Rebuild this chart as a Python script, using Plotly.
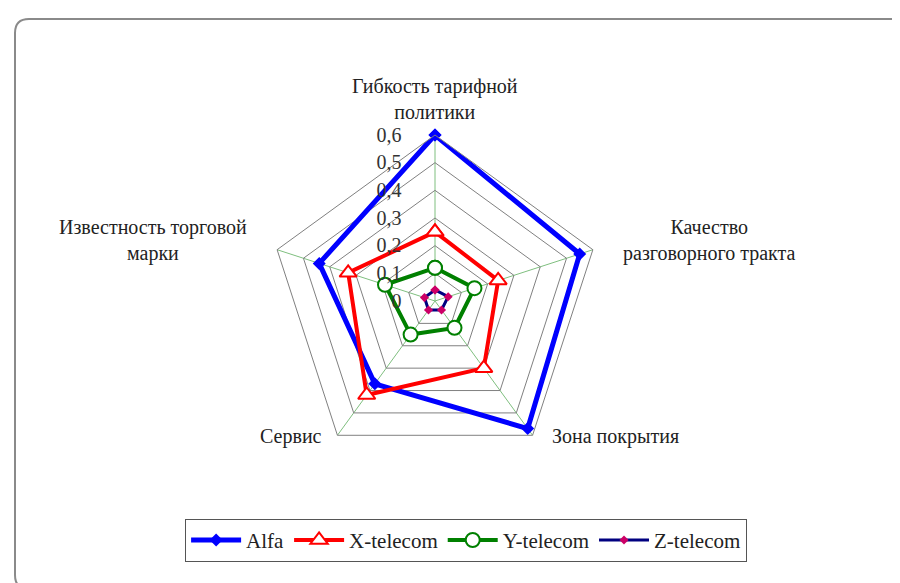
import plotly.graph_objects as go

categories = ["Гибкость тарифной политики", "Качество разговорного тракта",
              "Зона покрытия", "Сервис", "Известность торговой марки"]
alfa = [0.60, 0.55, 0.57, 0.37, 0.44]
x_telecom = [0.25, 0.24, 0.30, 0.42, 0.33]
y_telecom = [0.12, 0.15, 0.12, 0.15, 0.19]
z_telecom = [0.04, 0.05, 0.04, 0.04, 0.04]
tick_vals = [0, 0.1, 0.2, 0.3, 0.4, 0.5, 0.6]
tick_text = ["0", "0,1", "0,2", "0,3", "0,4", "0,5", "0,6"]

FONT = "'Liberation Serif', 'Times New Roman', serif"

def closed(v):
    return list(v) + [v[0]]

theta = closed(categories)
pad = "\u00a0" * 6

fig = go.Figure()
fig.add_trace(go.Scatterpolar(
    r=closed(alfa), theta=theta, name="Alfa", mode="lines+markers",
    line=dict(color="#0000FF", width=5),
    marker=dict(symbol="diamond", size=10, color="#0000FF")))
fig.add_trace(go.Scatterpolar(
    r=closed(x_telecom), theta=theta, name="X-telecom", mode="lines+markers",
    line=dict(color="#FF0000", width=4),
    marker=dict(symbol="triangle-up", size=15, color="white",
                line=dict(color="#FF0000", width=2))))
fig.add_trace(go.Scatterpolar(
    r=closed(y_telecom), theta=theta, name="Y-telecom", mode="lines+markers",
    line=dict(color="#008000", width=4),
    marker=dict(symbol="circle", size=14, color="white",
                line=dict(color="#008000", width=2))))
fig.add_trace(go.Scatterpolar(
    r=closed(z_telecom), theta=theta, name="Z-telecom", mode="lines+markers",
    line=dict(color="#000080", width=3),
    marker=dict(symbol="diamond", size=7, color="#CC0066")))

W, H = 900, 583
cx, cy, R = 427, 293, 166
dom_x = [(cx - R) / W, (cx + R) / W]
dom_y = [(H - cy - R) / H, (H - cy + R) / H]

fig.update_layout(
    width=W, height=H,
    margin=dict(l=0, r=0, t=0, b=0),
    paper_bgcolor="white", plot_bgcolor="white",
    font=dict(family=FONT, size=15, color="#222"),
    polar=dict(
        domain=dict(x=dom_x, y=dom_y),
        bgcolor="white",
        gridshape="linear",
        angularaxis=dict(
            rotation=90, direction="clockwise",
            showticklabels=False, ticks="",
            gridcolor="#7FBF7F", gridwidth=1,
            linecolor="#808080", linewidth=1, showline=True),
        radialaxis=dict(
            range=[0, 0.6], angle=90, tickangle=90, side="counterclockwise",
            tickvals=tick_vals, ticktext=[t + pad for t in tick_text],
            tickfont=dict(family=FONT, size=20, color="#333"),
            ticks="", showline=False,
            gridcolor="#808080", gridwidth=1),
    ),
    showlegend=True,
    legend=dict(
        orientation="h", x=0.509, xanchor="center", y=0.05, yanchor="bottom",
        bordercolor="#555", borderwidth=1, bgcolor="white",
        font=dict(family=FONT, size=21, color="#222"),
        itemwidth=50, tracegroupgap=0),
)

labels = [
    ("Гибкость тарифной<br>политики", 427, 91),
    ("Качество<br>разговорного тракта", 701, 233),
    ("Зона покрытия", 607, 428),
    ("Сервис", 283, 429),
    ("Известность торговой<br>марки", 145, 233),
]
for text, x, y in labels:
    fig.add_annotation(text=text, x=x / W, y=1 - y / H, xref="paper", yref="paper",
                       showarrow=False, font=dict(family=FONT, size=20, color="#222"),
                       align="center", xanchor="center", yanchor="middle")

# rounded chart border
x0, x1 = 7 / W, 898 / W
y0, y1 = 1 - 581 / H, 1 - 11 / H
rx, ry = 14 / W, 14 / H
path = (f"M {x0 + rx},{y1} L {x1 - rx},{y1} Q {x1},{y1} {x1},{y1 - ry} "
        f"L {x1},{y0 + ry} Q {x1},{y0} {x1 - rx},{y0} L {x0 + rx},{y0} "
        f"Q {x0},{y0} {x0},{y0 + ry} L {x0},{y1 - ry} Q {x0},{y1} {x0 + rx},{y1} Z")
fig.add_shape(type="path", path=path, xref="paper", yref="paper",
              line=dict(color="#8A8A8A", width=2), fillcolor="rgba(0,0,0,0)", layer="below")

fig.write_html("out.html")
